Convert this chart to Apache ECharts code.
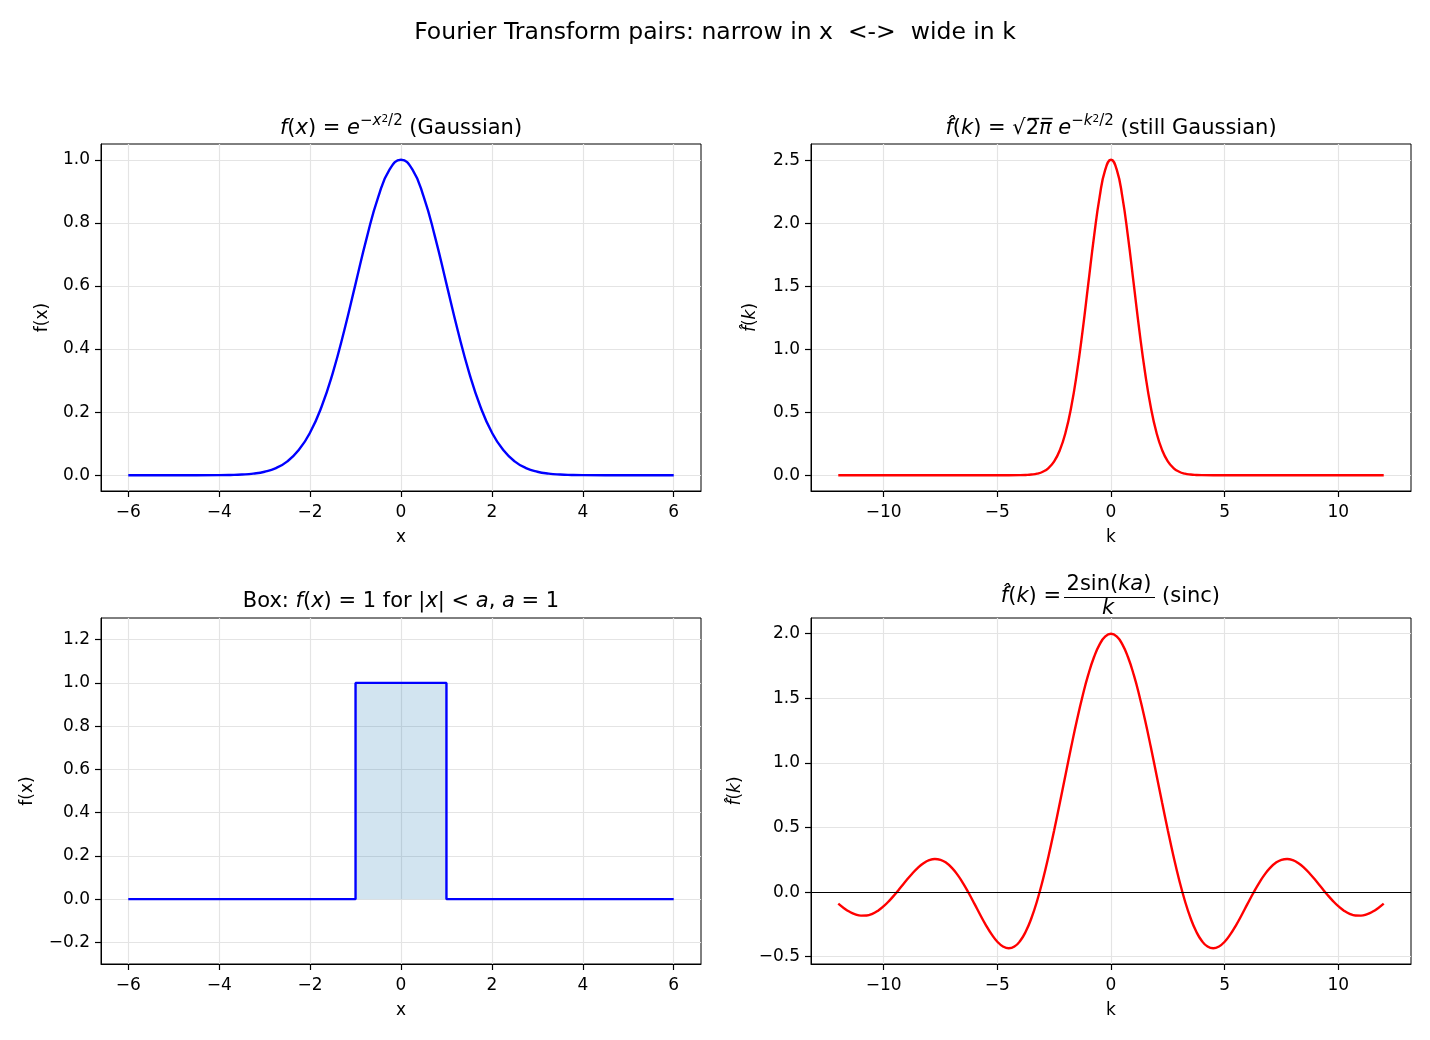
<!DOCTYPE html>
<html>
<head>
<meta charset="utf-8">
<script src="https://cdn.jsdelivr.net/npm/echarts@6/dist/echarts.min.js"></script>
<style>
  html, body { margin: 0; padding: 0; background: #fff; }
  #chart { width: 1430px; height: 1040px; }
</style>
</head>
<body>
<div id="chart"></div>
<script>
// f(x) = exp(-x^2/2)
const gaussX = [-6, -5, -4, -3.75, -3.5, -3.25, -3, -2.75, -2.5, -2.25, -2, -1.75, -1.5, -1.25, -1, -0.75, -0.5, -0.25, 0,
  0.25, 0.5, 0.75, 1, 1.25, 1.5, 1.75, 2, 2.25, 2.5, 2.75, 3, 3.25, 3.5, 3.75, 4, 5, 6]
const gaussY = [0, 0, 0.0003, 0.0009, 0.0022, 0.0051, 0.0111, 0.0228, 0.0439, 0.0796, 0.1353, 0.2163, 0.3247, 0.4578, 0.6065, 0.7548, 0.8825, 0.9692, 1,
  0.9692, 0.8825, 0.7548, 0.6065, 0.4578, 0.3247, 0.2163, 0.1353, 0.0796, 0.0439, 0.0228, 0.0111, 0.0051, 0.0022, 0.0009, 0.0003, 0, 0]

// transform of the gaussian, top-right panel
const ftGaussK = [-12, -10, -8, -6, -5, -4, -3.75, -3.5, -3.25, -3, -2.75, -2.5, -2.25, -2, -1.75, -1.5, -1.25, -1, -0.75, -0.5, -0.25, 0,
  0.25, 0.5, 0.75, 1, 1.25, 1.5, 1.75, 2, 2.25, 2.5, 2.75, 3, 3.25, 3.5, 3.75, 4, 5, 6, 8, 10, 12]
const ftGaussY = [0, 0, 0, 0, 0, 0.0008, 0.0022, 0.0055, 0.0127, 0.0278, 0.0572, 0.11, 0.1995, 0.3392, 0.5422, 0.8139, 1.1475, 1.5203, 1.892, 2.2121, 2.4295, 2.5066,
  2.4295, 2.2121, 1.892, 1.5203, 1.1475, 0.8139, 0.5422, 0.3392, 0.1995, 0.11, 0.0572, 0.0278, 0.0127, 0.0055, 0.0022, 0.0008, 0, 0, 0, 0, 0]

// box function, bottom-left
const boxX = [-6, -1, -1, 1, 1, 6]
const boxY = [0, 0, 1, 1, 0, 0]
const boxFillX = [-1, 1]
const boxFillY = [1, 1]

// sinc, bottom-right
const sincK = [-12, -11.75, -11.5, -11.25, -11, -10.75, -10.5, -10.25, -10, -9.75, -9.5, -9.25, -9, -8.75, -8.5, -8.25,
  -8, -7.75, -7.5, -7.25, -7, -6.75, -6.5, -6.25, -6, -5.75, -5.5, -5.25, -5, -4.75, -4.5, -4.25,
  -4, -3.75, -3.5, -3.25, -3, -2.75, -2.5, -2.25, -2, -1.75, -1.5, -1.25, -1, -0.75, -0.5, -0.25, 0,
  0.25, 0.5, 0.75, 1, 1.25, 1.5, 1.75, 2, 2.25, 2.5, 2.75, 3, 3.25, 3.5, 3.75, 4,
  4.25, 4.5, 4.75, 5, 5.25, 5.5, 5.75, 6, 6.25, 6.5, 6.75, 7, 7.25, 7.5, 7.75, 8,
  8.25, 8.5, 8.75, 9, 9.25, 9.5, 9.75, 10, 10.25, 10.5, 10.75, 11, 11.25, 11.5, 11.75, 12]
const sincY = [-0.0894, -0.124, -0.1523, -0.1721, -0.1818, -0.1805, -0.1676, -0.1434, -0.1088, -0.0655, -0.0158, 0.0376, 0.0916, 0.1428, 0.1879, 0.2237,
  0.2474, 0.2567, 0.2501, 0.2271, 0.1877, 0.1333, 0.0662, -0.0106, -0.0931, -0.1768, -0.2565, -0.3272, -0.3836, -0.4208, -0.4345, -0.4212,
  -0.3784, -0.3048, -0.2004, -0.0666, 0.0941, 0.2776, 0.4788, 0.6916, 0.9093, 1.1246, 1.33, 1.5184, 1.6829, 1.8177, 1.9177, 1.9792, 2,
  1.9792, 1.9177, 1.8177, 1.6829, 1.5184, 1.33, 1.1246, 0.9093, 0.6916, 0.4788, 0.2776, 0.0941, -0.0666, -0.2004, -0.3048, -0.3784,
  -0.4212, -0.4345, -0.4208, -0.3836, -0.3272, -0.2565, -0.1768, -0.0931, -0.0106, 0.0662, 0.1333, 0.1877, 0.2271, 0.2501, 0.2567, 0.2474,
  0.2237, 0.1879, 0.1428, 0.0916, 0.0376, -0.0158, -0.0655, -0.1088, -0.1434, -0.1676, -0.1805, -0.1818, -0.1721, -0.1523, -0.124, -0.0894]

const xTicks = [-6, -4, -2, 0, 2, 4, 6]
const kTicks = [-10, -5, 0, 5, 10]
const gaussTicks = [0, 0.2, 0.4, 0.6, 0.8, 1.0]
const ftGaussTicks = [0, 0.5, 1.0, 1.5, 2.0, 2.5]
const boxTicks = [-0.2, 0, 0.2, 0.4, 0.6, 0.8, 1.0, 1.2]
const sincTicks = [-0.5, 0, 0.5, 1.0, 1.5, 2.0]

const FONT = 'DejaVu Sans'
const TICK_FS = 17
const TITLE_FS = 21
const zip = (xs, ys) => xs.map((x, i) => [x, ys[i]])
const fmt = d => v => (v < 0 ? '\u2212' : '') + Math.abs(v).toFixed(d)

const grids = [
  { left: 101, top: 144, width: 600, height: 347 },
  { left: 811, top: 144, width: 600, height: 347 },
  { left: 101, top: 618, width: 600, height: 346 },
  { left: 811, top: 618, width: 600, height: 346 }
].map(g => ({ ...g, show: true, borderColor: '#000', borderWidth: 1, backgroundColor: 'transparent' }))

const makeAxis = (gridIndex, min, max, ticks, digits, name, nameGap, labelMargin, extra = {}) => ({
  type: 'value',
  gridIndex,
  min,
  max,
  name,
  nameLocation: 'middle',
  nameGap,
  nameTextStyle: { fontFamily: FONT, fontSize: TICK_FS, color: '#000', ...(extra.nameStyle || {}) },
  axisLine: { show: true, onZero: false, lineStyle: { color: '#000', width: 1 } },
  axisTick: { show: true, length: 6, customValues: ticks, lineStyle: { color: '#000', width: 1.2 } },
  axisLabel: { customValues: ticks, formatter: fmt(digits), fontFamily: FONT, fontSize: TICK_FS, color: '#000', margin: labelMargin },
  splitLine: { show: true, lineStyle: { color: '#e4e4e4', width: 1.2 } }
})

const hatName = {
  nameStyle: { rich: { i: { fontFamily: FONT, fontSize: TICK_FS, fontStyle: 'italic', color: '#000' } } }
}

const xAxes = [
  makeAxis(0, -6.6, 6.6, xTicks, 0, 'x', 38, 13),
  makeAxis(1, -13.2, 13.2, kTicks, 0, 'k', 38, 13),
  makeAxis(2, -6.6, 6.6, xTicks, 0, 'x', 38, 13),
  makeAxis(3, -13.2, 13.2, kTicks, 0, 'k', 38, 13)
]
const yAxes = [
  makeAxis(0, -0.05, 1.05, gaussTicks, 1, 'f(x)', 50, 11),
  makeAxis(1, -0.1253, 2.6319, ftGaussTicks, 1, '{i|f\u0302}({i|k})', 52, 11, hatName),
  makeAxis(2, -0.3, 1.3, boxTicks, 1, 'f(x)', 65, 11),
  makeAxis(3, -0.5562, 2.1217, sincTicks, 1, '{i|f\u0302}({i|k})', 67, 11, hatName)
]

// title rich styles, mimicking mathtext
const rich = {
  i: { fontFamily: FONT, fontSize: TITLE_FS, fontStyle: 'italic', lineHeight: 30, fill: '#000' },
  s: { fontFamily: FONT, fontSize: 15, fontStyle: 'italic', lineHeight: 15, verticalAlign: 'top', fill: '#000' },
  sn: { fontFamily: FONT, fontSize: 15, lineHeight: 15, verticalAlign: 'top', fill: '#000' },
  ss: { fontFamily: FONT, fontSize: 10.5, lineHeight: 7, verticalAlign: 'top', fill: '#000' }
}
const titleText = (x, y, text, align = 'center') => ({
  type: 'text',
  x,
  y,
  style: { text, rich, fontFamily: FONT, fontSize: TITLE_FS, lineHeight: 30, fill: '#000', align, verticalAlign: 'middle' }
})

const graphic = [
  titleText(401, 129, '{i|f}({i|x}) = {i|e}{sn|\u2212}{s|x}{ss|2}{sn|/2} (Gaussian)'),
  titleText(1111, 129, '{i|f\u0302}({i|k}) = \u221a2\u0305{i|\u03c0\u0305} {i|e}{sn|\u2212}{s|k}{ss|2}{sn|/2} (still Gaussian)'),
  titleText(401, 602, 'Box: {i|f}({i|x}) = 1 for |{i|x}| < {i|a}, {i|a} = 1'),
  // sinc title with a stacked fraction
  titleText(1061, 597, '{i|f\u0302}({i|k}) =', 'right'),
  titleText(1109, 585, '2sin({i|ka})'),
  { type: 'line', shape: { x1: 1064, y1: 597.5, x2: 1155, y2: 597.5 }, style: { stroke: '#000', lineWidth: 1 } },
  titleText(1108, 609, '{i|k}'),
  titleText(1162, 597, '(sinc)', 'left')
]

const lineSeries = (idx, data, color, extra = {}) => ({
  type: 'line',
  xAxisIndex: idx,
  yAxisIndex: idx,
  data,
  showSymbol: false,
  symbol: 'none',
  lineStyle: { color, width: 2.4 },
  itemStyle: { color },
  animation: false,
  ...extra
})

const chart = echarts.init(document.getElementById('chart'))
chart.setOption({
  backgroundColor: '#fff',
  animation: false,
  title: {
    text: 'Fourier Transform pairs: narrow in x  <->  wide in k',
    left: 'center',
    top: 16,
    textStyle: { fontFamily: FONT, fontSize: 23.5, fontWeight: 'normal', color: '#000' }
  },
  grid: grids,
  xAxis: xAxes,
  yAxis: yAxes,
  graphic,
  series: [
    lineSeries(0, zip(gaussX, gaussY), '#0000ff', { smooth: true }),
    lineSeries(1, zip(ftGaussK, ftGaussY), '#ff0000', { smooth: true }),
    lineSeries(2, zip(boxFillX, boxFillY), '#1f77b4', {
      lineStyle: { width: 0 },
      areaStyle: { color: 'rgba(31,119,180,0.2)', opacity: 1, origin: 0 }
    }),
    lineSeries(2, zip(boxX, boxY), '#0000ff'),
    lineSeries(3, zip(sincK, sincY), '#ff0000', {
      smooth: true,
      markLine: {
        silent: true,
        symbol: 'none',
        label: { show: false },
        lineStyle: { color: '#000', width: 1, type: 'solid' },
        data: [{ yAxis: 0 }]
      }
    })
  ]
})
</script>
</body>
</html>
